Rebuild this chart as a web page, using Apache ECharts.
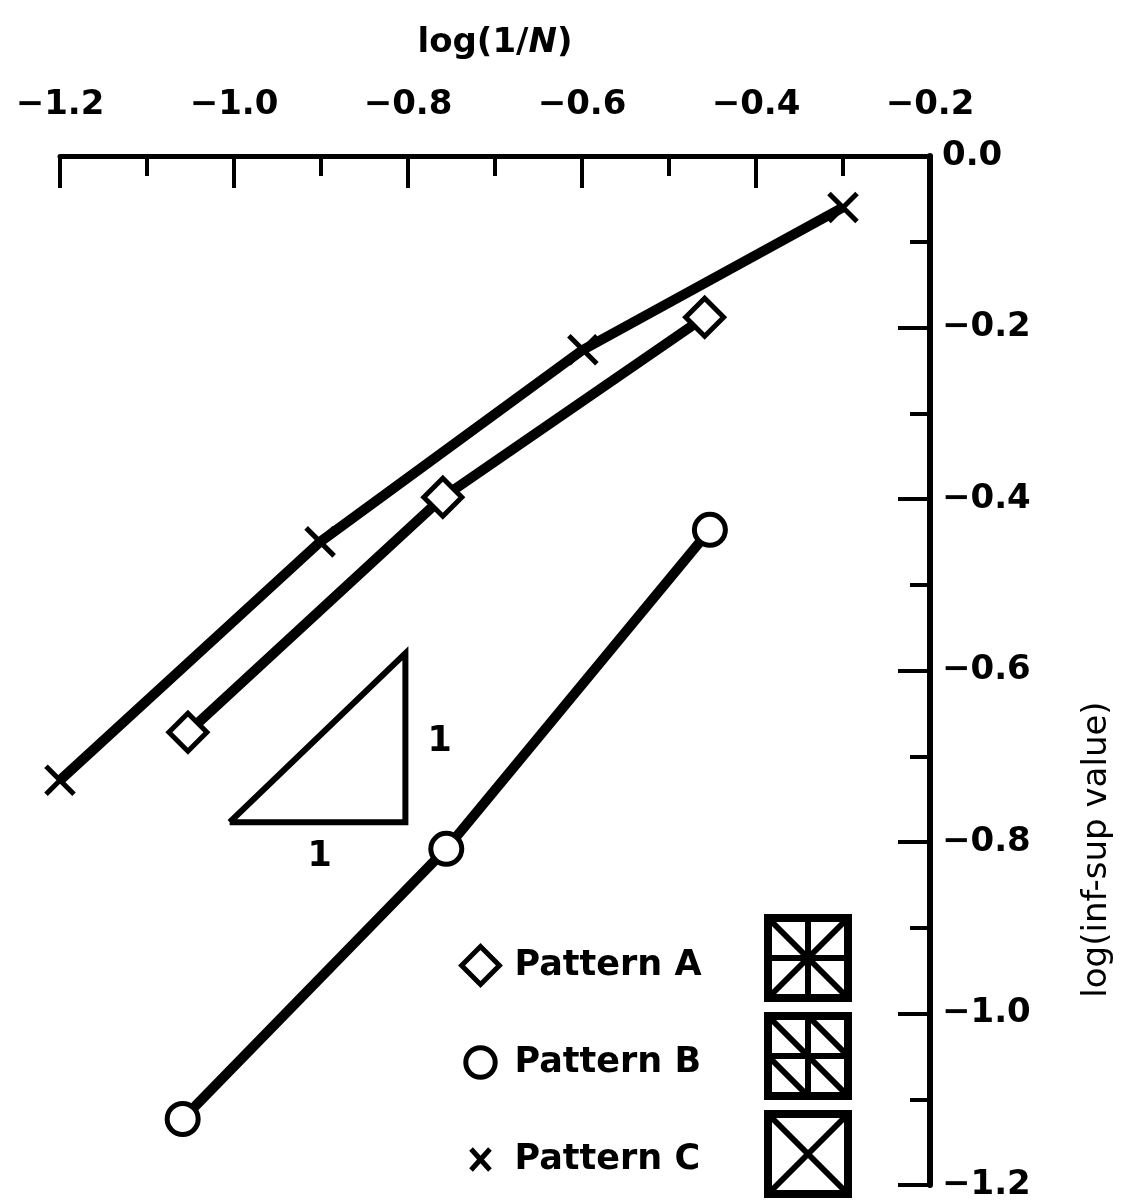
<!DOCTYPE html>
<html>
<head>
<meta charset="utf-8">
<script src="https://cdn.jsdelivr.net/npm/echarts@6/dist/echarts.min.js"></script>
<style>
  html, body { margin: 0; padding: 0; background: #fff; }
  #main { width: 1122px; height: 1202px; }
</style>
</head>
<body>
<div id="main"></div>
<script>
var chartDom = document.getElementById('main');
var myChart = echarts.init(chartDom);
var option;

const FONT = 'DejaVu Sans';
const CROSS = 'path://M0,0 L10,10 M10,0 L0,10';

// legend icons, padded with bare moves so they come out at different sizes in one legend box
const ICON_A = 'path://M-20,-20 M20,20 M0,-18 L18,0 L0,18 L-18,0 Z';
const ICON_B = 'path://M-20,-20 M20,20 M-14,0 A14,14 0 1,0 14,0 A14,14 0 1,0 -14,0 Z';
const ICON_C = 'path://M-20,-20 M20,20 M-9,-10 L9,10 M9,-10 L-9,10';

// values: [log(1/N), log(inf-sup value)]
const patternA = [[-1.053, -0.672], [-0.760, -0.398], [-0.459, -0.188]];
const patternB = [[-1.059, -1.123], [-0.756, -0.808], [-0.453, -0.436]];
const patternC = [[-1.200, -0.728], [-0.901, -0.450], [-0.599, -0.226], [-0.300, -0.060]];

// slope 1:1 reference triangle and its labels
const triangle = [[-1.005, -0.777], [-0.803, -0.777], [-0.803, -0.580], [-1.005, -0.777]];
const triangleLabels = [[-0.763, -0.684], [-0.901, -0.818]];

const seriesNames = ['Pattern A', 'Pattern B', 'Pattern C'];

function dash(v)
{
  // print minus signs like the original
  return (Math.abs(v) < 1e-9 ? '0.0' : v.toFixed(1)).replace('-', '\u2212');
}

// little square icons beside the legend, drawn as plain graphics
function patternIcon(x, y, kind)
{
  const s = 80;
  const h = s / 2;
  const style = { stroke: '#000', lineWidth: 6, fill: 'none' };
  let segs = [];
  if (kind === 'A' || kind === 'B') {
    segs.push([h, 0, h, s], [0, h, s, h]);
  }
  if (kind === 'A' || kind === 'C') {
    segs.push([0, 0, s, s], [s, 0, 0, s]);
  }
  if (kind === 'B') {
    segs.push([0, 0, h, h], [h, 0, s, h], [0, h, h, s], [h, h, s, s]);
  }
  let children = [{ type: 'rect', shape: { x: 0, y: 0, width: s, height: s }, style: { stroke: '#000', lineWidth: 8, fill: '#fff' } }];
  segs.forEach(p => {
    children.push({ type: 'line', shape: { x1: p[0], y1: p[1], x2: p[2], y2: p[3] }, style: style });
  });
  return { type: 'group', x: x, y: y, children: children };
}

function lineSeries(name, data, symbol, size)
{
  return {
    name: name,
    type: 'line',
    data: data,
    symbol: symbol,
    symbolSize: size,
    showAllSymbol: true,
    z: 3,
    lineStyle: { color: '#000', width: 10 },
    itemStyle: { color: '#fff', borderColor: '#000', borderWidth: 5 }
  };
}

option = {
  animation: false,
  backgroundColor: '#fff',
  grid: { left: 60, right: 190, top: 156, bottom: 12 },
  legend: {
    orient: 'vertical',
    left: 457,
    top: 942,
    height: 258,
    padding: 0,
    itemWidth: 42,
    itemHeight: 42,
    itemGap: 50,
    textStyle: { fontFamily: FONT, fontSize: 35, fontWeight: 'bold', color: '#000', padding: [0, 0, 0, 8] },
    data: [
      { name: seriesNames[0], icon: ICON_A, itemStyle: { color: '#fff', borderColor: '#000', borderWidth: 5 } },
      { name: seriesNames[1], icon: ICON_B, itemStyle: { color: '#fff', borderColor: '#000', borderWidth: 5 } },
      { name: seriesNames[2], icon: ICON_C, itemStyle: { color: 'none', borderColor: '#000', borderWidth: 5 } }
    ]
  },
  xAxis: {
    type: 'value',
    position: 'top',
    min: -1.2,
    max: -0.2,
    interval: 0.2,
    name: '{a|log(1/}{b|N}{a|)}',
    nameLocation: 'middle',
    nameGap: 96,
    nameTextStyle: {
      rich: {
        a: { fontFamily: FONT, fontSize: 34, fontWeight: 'bold', color: '#000' },
        b: { fontFamily: FONT, fontSize: 34, fontWeight: 'bold', fontStyle: 'italic', color: '#000' }
      }
    },
    axisLine: { show: true, onZero: false, lineStyle: { color: '#000', width: 5 } },
    axisTick: { show: true, inside: true, length: 32, lineStyle: { color: '#000', width: 4 } },
    minorTick: { show: true, splitNumber: 2, length: 20, lineStyle: { color: '#000', width: 4 } },
    splitLine: { show: false },
    axisLabel: {
      margin: 34,
      fontFamily: FONT,
      fontSize: 34,
      fontWeight: 'bold',
      color: '#000',
      formatter: dash
    }
  },
  yAxis: {
    type: 'value',
    position: 'right',
    min: -1.2,
    max: 0,
    interval: 0.2,
    name: 'log(inf-sup value)',
    nameLocation: 'middle',
    nameRotate: 90,
    nameGap: 150,
    nameTextStyle: { fontFamily: FONT, fontSize: 34, color: '#000', padding: [0, 358, 0, 0] },
    axisLine: { show: true, onZero: false, lineStyle: { color: '#000', width: 6 } },
    axisTick: { show: true, inside: true, length: 32, lineStyle: { color: '#000', width: 4 } },
    minorTick: { show: true, splitNumber: 2, length: 20, lineStyle: { color: '#000', width: 4 } },
    splitLine: { show: false },
    axisLabel: {
      margin: 12,
      fontFamily: FONT,
      fontSize: 34,
      fontWeight: 'bold',
      color: '#000',
      formatter: dash
    }
  },
  graphic: [
    patternIcon(768, 918, 'A'),
    patternIcon(768, 1016, 'B'),
    patternIcon(768, 1114, 'C')
  ],
  series: [
    lineSeries(seriesNames[0], patternA, 'diamond', 38),
    lineSeries(seriesNames[1], patternB, 'circle', 31),
    Object.assign(lineSeries(seriesNames[2], patternC, CROSS, 28), {
      itemStyle: { color: 'none', borderColor: '#000', borderWidth: 5 }
    }),
    {
      type: 'line',
      data: triangle,
      symbol: 'none',
      silent: true,
      lineStyle: { color: '#000', width: 6, join: 'miter' }
    },
    {
      type: 'scatter',
      data: triangleLabels,
      symbolSize: 1,
      silent: true,
      itemStyle: { color: 'rgba(0,0,0,0)', opacity: 1 },
      label: {
        show: true,
        position: [0, 0],
        align: 'center',
        verticalAlign: 'middle',
        formatter: '1',
        fontFamily: FONT,
        fontSize: 35,
        fontWeight: 'bold',
        color: '#000',
        opacity: 1
      }
    }
  ]
};

option && myChart.setOption(option);
</script>
</body>
</html>
